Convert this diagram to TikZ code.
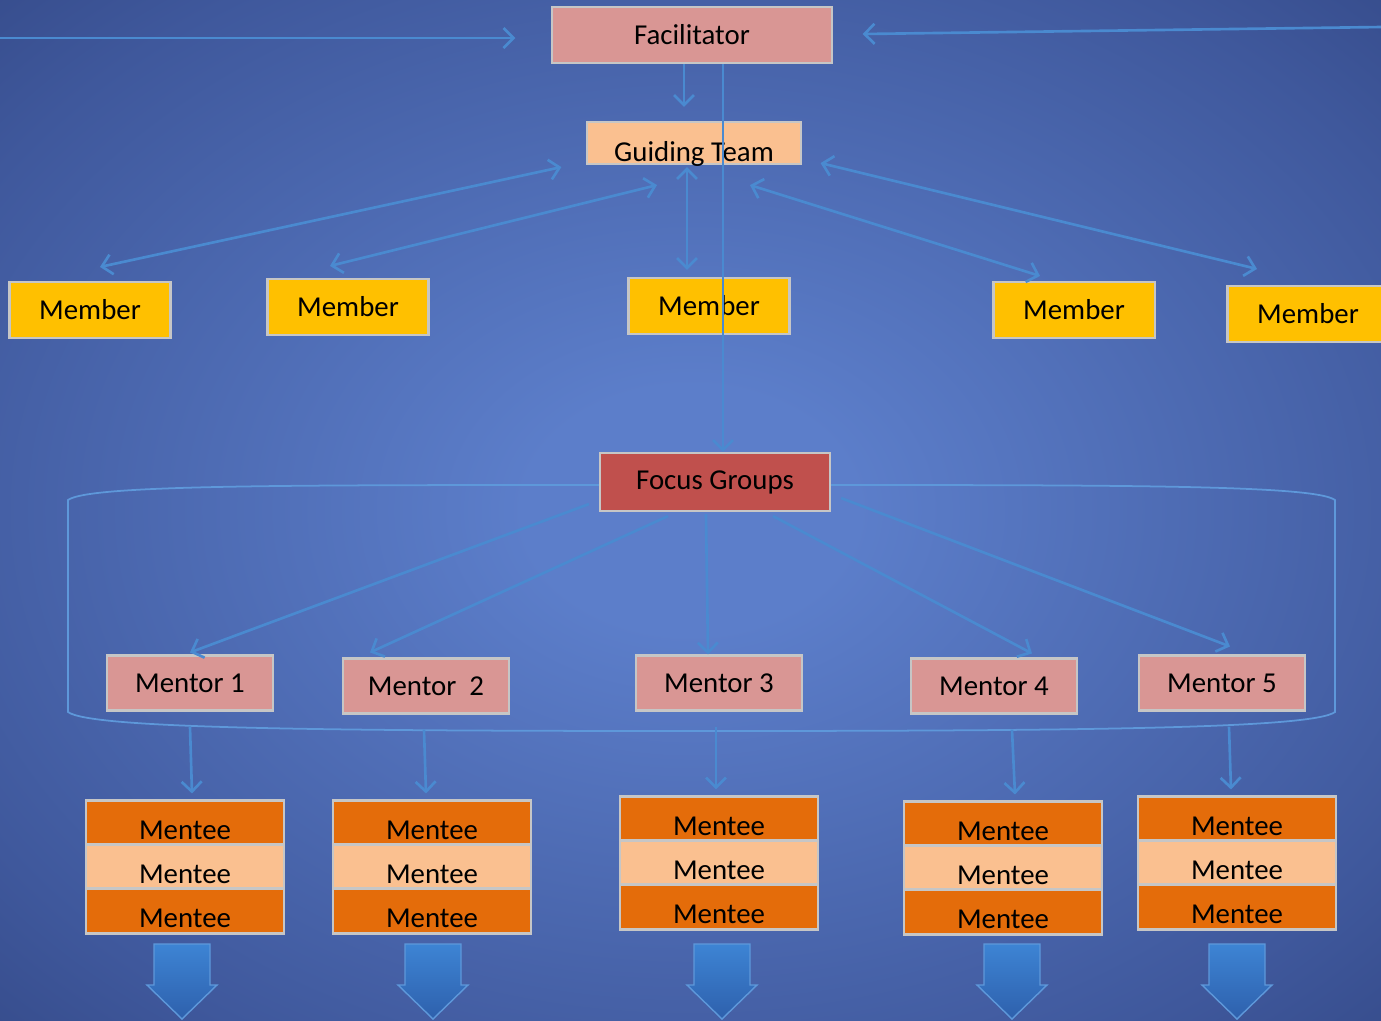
\documentclass[tikz,border=0pt]{standalone}
\usepackage{fontspec}
\setmainfont{Carlito}
\usetikzlibrary{arrows.meta}

\definecolor{bgin}{HTML}{5C7ECA}
\definecolor{bgmid}{HTML}{3F589C}
\definecolor{bgout}{HTML}{24346A}
\definecolor{linkblue}{HTML}{4A8AD0}
\definecolor{rimblue}{HTML}{5E98DA}
\definecolor{pinkbox}{HTML}{D99694}
\definecolor{peach}{HTML}{FAC090}
\definecolor{gold}{HTML}{FFC000}
\definecolor{redbox}{HTML}{C0504D}
\definecolor{orangebox}{HTML}{E46C0A}
\definecolor{arrtop}{HTML}{3D84D4}
\definecolor{arrbot}{HTML}{2E60AC}

\pgfdeclareradialshading{backdrop}{\pgfpoint{0bp}{0bp}}{color(0bp)=(bgin); color(6bp)=(bgin); color(30bp)=(bgmid); color(50bp)=(bgout)}

\tikzset{
    box/.style={draw=gray!45, line width=0.6pt, inner sep=0pt, text=black,
        font=\fontsize{8.2}{10}\selectfont},
    member/.style={box, fill=gold, minimum width=1.61cm, minimum height=0.56cm},
    mentor/.style={box, fill=pinkbox, minimum width=1.66cm, minimum height=0.55cm},
    mentee/.style={box, minimum width=1.98cm, inner ysep=0.06cm, text height=0.33cm, text depth=0pt},
    link/.style={draw=linkblue, line width=0.75pt, -{Straight Barb[length=1mm,width=2mm]}},
    twoway/.style={link, {Straight Barb[length=1mm,width=2mm]}-{Straight Barb[length=1mm,width=2mm]}}
}

\begin{document}
\begin{tikzpicture}[x=0.01cm, y=-0.01cm]
            \path[use as bounding box, clip] (0,0) rectangle (1381,1020);
            \shade[shading=backdrop] (0,0) rectangle (1381,1020);
            % frame round the mentors
            \draw [rimblue, line width=0.5pt] (68,500) .. controls (90,484) and (300,485) .. (700,485)
                .. controls (1100,485) and (1313,484) .. (1335,500) -- (1335,712)
                .. controls (1313,728) and (1100,731) .. (700,731)
                .. controls (300,731) and (90,728) .. (68,712) -- cycle;

            \node [box, fill=pinkbox, minimum width=2.79cm, minimum height=0.56cm] (fac) at (692,35) {Facilitator};
            \node [box, fill=peach, minimum width=2.13cm, inner ysep=0.03cm, text height=0.36cm, text depth=0pt] (gt) at (694,143) {Guiding Team};
            \node [member] (m1) at (90,310) {Member};
            \node [member] (m2) at (348,307) {Member};
            \node [member] (m3) at (709,306) {Member};
            \node [member] (m4) at (1074,310) {Member};
            \node [member] (m5) at (1308,314) {Member};
            \node [box, fill=redbox, minimum width=2.30cm, minimum height=0.58cm] (fg) at (715,482) {Focus Groups};
            \node [mentor] (mt1) at (190,683) {Mentor 1};
            \node [mentor] (mt2) at (426,686) {Mentor\ \ 2};
            \node [mentor] (mt3) at (719,683) {Mentor 3};
            \node [mentor] (mt4) at (994,686) {Mentor 4};
            \node [mentor] (mt5) at (1222,683) {Mentor 5};
            \foreach \n/\x/\y in {1/185/801, 2/432/801, 3/719/797, 4/1003/802, 5/1237/797}
                {\node [mentee, fill=orangebox] (me\n-1) at (\x,\y+22) {Mentee};
                \node [mentee, fill=peach] (me\n-2) at (\x,\y+66) {Mentee};
                \node [mentee, fill=orangebox] (me\n-3) at (\x,\y+110) {Mentee};}

            % into the facilitator
            \coordinate (inl) at (0,38);
            \coordinate (inr) at (1381,27);
            \draw [link] (inl) -- ([shift={(-36,3)}]fac.west);
            \draw [link] (inr) -- ([shift={(30,-1)}]fac.east);
            \draw [link] ([shift={(-8,0)}]fac.south) -- ([shift={(-10,-14)}]gt.north);
            \draw [link] ([shift={(31,0)}]fac.south) -- ([shift={(8,0)}]fg.north);

            % guiding team and members
            \draw [twoway] ([shift={(-25,2)}]gt.south west) -- ([shift={(10,-14)}]m1.north);
            \draw [twoway] ([shift={(-37,20)}]gt.south) -- ([shift={(-18,-12)}]m2.north);
            \draw [twoway] ([shift={(-7,2)}]gt.south) -- ([shift={(-22,-7)}]m3.north);
            \draw [twoway] ([shift={(56,20)}]gt.south) -- ([shift={(-34,-5)}]m4.north);
            \draw [twoway] ([shift={(19,-2)}]gt.south east) -- ([shift={(-51,-16)}]m5.north);

            % focus groups to mentors
            \draw [link] ([shift={(-10,-8)}]fg.south west) -- ([shift={(0,-2)}]mt1.north);
            \draw [link] ([shift={(-47,4)}]fg.south) -- ([shift={(-56,-5)}]mt2.north);
            \draw [link] ([shift={(-9,2)}]fg.south) -- ([shift={(-11,0)}]mt3.north);
            \draw [link] ([shift={(58,4)}]fg.south) -- ([shift={(38,-4)}]mt4.north);
            \draw [link] ([shift={(10,-14)}]fg.south east) -- ([shift={(8,-8)}]mt5.north);

            % mentors to mentees
            \foreach \n/\a/\b in {1/0/7, 2/-2/-6, 3/-3/-3, 4/18/12, 5/7/-6}
                \draw [link] ([shift={(\a,15)}]mt\n.south) -- ([shift={(\b,-6)}]me\n-1.north);

            % block arrows
            \foreach \x in {182,433,722,1012,1237}
                \shade [top color=arrtop, bottom color=arrbot, draw=rimblue, line width=0.4pt]
                    (\x-28,944) -- (\x+28,944) -- (\x+28,985) -- (\x+35,985) -- (\x,1019)
                    -- (\x-35,985) -- (\x-28,985) -- cycle;
\end{tikzpicture}
\end{document}
